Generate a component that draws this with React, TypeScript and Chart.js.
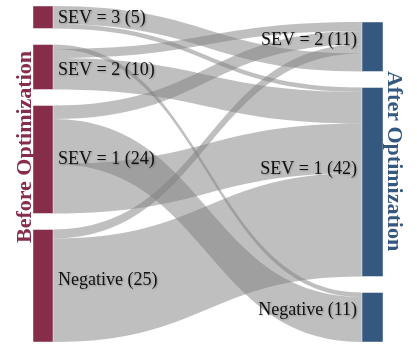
import React, { useEffect, useRef } from 'react';
import { Chart, registerables } from 'chart.js';
Chart.register(...registerables);

// ---- data ----
const leftNodes = ['SEV = 3', 'SEV = 2', 'SEV = 1', 'Negative'];
const leftValues = [5, 10, 24, 25];
const rightNodes = ['SEV = 2', 'SEV = 1', 'Negative'];
const rightValues = [11, 42, 11];
// links (left node index -> right node index)
const linkSource = [0, 0, 1, 1, 1, 2, 2, 2, 3, 3];
const linkTarget = [0, 1, 2, 0, 1, 0, 2, 1, 0, 1];
const linkValue = [4, 1, 1, 2, 7, 3, 10, 11, 2, 23];
// stacking order of each link inside its target node
const linkTargetRank = [3, 0, 0, 0, 1, 1, 1, 2, 2, 3];
const leftTitle = 'Before Optimization';
const rightTitle = 'After Optimization';

// ---- style ----
const GAP = 16 / 4.5;
const NODE_W_L = 20 / 350;
const NODE_W_R = 21 / 350;
const LEFT_COLOR = '#852D49';
const RIGHT_COLOR = '#355880';
const LINK_COLOR = 'rgba(128,128,128,0.5)';
const LABEL_FONT = '18px "Liberation Serif", "Times New Roman", serif';
const TITLE_FONT = 'bold 22px "Liberation Serif", "Times New Roman", serif';
const leftDy = [1, 3, 0, -5];
const rightDy = [-6, -13, -7];

const sankeyPlugin = {
  id: 'sankeyDraw',
  afterDatasetsDraw(chart: any) {
    const { ctx, scales } = chart;
    const xs = scales.x;
    const ys = scales.y;
    const px = (v: number) => xs.getPixelForValue(v);
    const py = (v: number) => ys.getPixelForValue(v);

    const leftPos: number[] = [];
    let acc = 0;
    leftValues.forEach((v) => { leftPos.push(acc); acc += v + GAP; });
    const leftSpan = acc - GAP;
    const rightSpan = rightValues.reduce((a, b) => a + b, 0) + GAP * (rightValues.length - 1);
    const rightPos: number[] = [];
    acc = leftSpan - rightSpan;
    rightValues.forEach((v) => { rightPos.push(acc); acc += v + GAP; });

    const srcOff = leftPos.slice();
    const srcY = linkValue.map((v, i) => {
      const s = srcOff[linkSource[i]];
      srcOff[linkSource[i]] += v;
      return s;
    });
    const tgtY: number[] = new Array(linkValue.length).fill(0);
    rightValues.forEach((_, t) => {
      const inc = linkValue.map((_, i) => i).filter((i) => linkTarget[i] === t)
        .sort((a, b) => linkTargetRank[a] - linkTargetRank[b]);
      let o = rightPos[t];
      inc.forEach((i) => { tgtY[i] = o; o += linkValue[i]; });
    });

    const x0 = px(NODE_W_L);
    const x1 = px(1 - NODE_W_R);
    const xm = (x0 + x1) / 2;

    ctx.save();
    ctx.fillStyle = LINK_COLOR;
    linkValue.forEach((v, i) => {
      const s0 = py(srcY[i]);
      const s1 = py(srcY[i] + v);
      const t0 = py(tgtY[i]);
      const t1 = py(tgtY[i] + v);
      ctx.beginPath();
      ctx.moveTo(x0, s0);
      ctx.bezierCurveTo(xm, s0, xm, t0, x1, t0);
      ctx.lineTo(x1, t1);
      ctx.bezierCurveTo(xm, t1, xm, s1, x0, s1);
      ctx.closePath();
      ctx.fill();
    });

    // nodes
    ctx.lineWidth = 0.5;
    ctx.strokeStyle = 'rgba(255,255,255,0.9)';
    leftValues.forEach((v, i) => {
      const top = py(leftPos[i]);
      const bot = py(leftPos[i] + v);
      ctx.fillStyle = LEFT_COLOR;
      ctx.fillRect(px(0), top, x0 - px(0), bot - top);
      ctx.strokeRect(px(0), top, x0 - px(0), bot - top);
    });
    rightValues.forEach((v, i) => {
      const top = py(rightPos[i]);
      const bot = py(rightPos[i] + v);
      ctx.fillStyle = RIGHT_COLOR;
      ctx.fillRect(x1, top, px(1) - x1, bot - top);
      ctx.strokeRect(x1, top, px(1) - x1, bot - top);
    });

    // labels
    ctx.font = LABEL_FONT;
    ctx.fillStyle = '#111';
    ctx.textBaseline = 'middle';
    ctx.shadowColor = 'rgba(0,0,0,0.25)';
    ctx.shadowBlur = 2;
    ctx.shadowOffsetX = 1;
    ctx.shadowOffsetY = 1;
    ctx.textAlign = 'left';
    leftNodes.forEach((n, i) => {
      const c = (py(leftPos[i]) + py(leftPos[i] + leftValues[i])) / 2;
      ctx.fillText(`${n} (${leftValues[i]})`, x0 + 5, c + leftDy[i]);
    });
    ctx.textAlign = 'right';
    rightNodes.forEach((n, i) => {
      const c = (py(rightPos[i]) + py(rightPos[i] + rightValues[i])) / 2;
      ctx.fillText(`${n} (${rightValues[i]})`, x1 - 5, c + rightDy[i]);
    });
    ctx.shadowColor = 'rgba(0,0,0,0)';
    ctx.shadowBlur = 0;
    ctx.shadowOffsetX = 0;
    ctx.shadowOffsetY = 0;

    // titles
    ctx.font = TITLE_FONT;
    ctx.textAlign = 'center';
    ctx.textBaseline = 'alphabetic';
    ctx.save();
    ctx.translate(31, 147);
    ctx.rotate(-Math.PI / 2);
    ctx.fillStyle = LEFT_COLOR;
    ctx.fillText(leftTitle, 0, 0);
    ctx.restore();
    ctx.save();
    ctx.translate(388, 161);
    ctx.rotate(Math.PI / 2);
    ctx.fillStyle = RIGHT_COLOR;
    ctx.fillText(rightTitle, 0, 0);
    ctx.restore();
    ctx.restore();
  },
};

export default function App() {
  const ref = useRef<HTMLCanvasElement>(null);
  useEffect(() => {
    if (!ref.current) return;
    const yMax = leftValues.reduce((a, b) => a + b, 0) + GAP * (leftValues.length - 1);
    const chart = new Chart(ref.current, {
      type: 'scatter',
      data: { datasets: [{ data: [], pointRadius: 0 }] },
      options: {
        animation: false,
        responsive: false,
        layout: { padding: { left: 33, right: 34, top: 6, bottom: 4 } },
        plugins: { legend: { display: false }, tooltip: { enabled: false } },
        scales: {
          x: { type: 'linear', min: 0, max: 1, display: false },
          y: { type: 'linear', min: 0, max: yMax, reverse: true, display: false },
        },
      },
      plugins: [sankeyPlugin],
    });
    return () => chart.destroy();
  }, []);
  return (
    <div style={{ position: 'fixed', left: 0, top: 0, width: 417, height: 346, background: '#fff' }}>
      <canvas ref={ref} width={417} height={346} style={{ display: 'block' }} />
    </div>
  );
}
